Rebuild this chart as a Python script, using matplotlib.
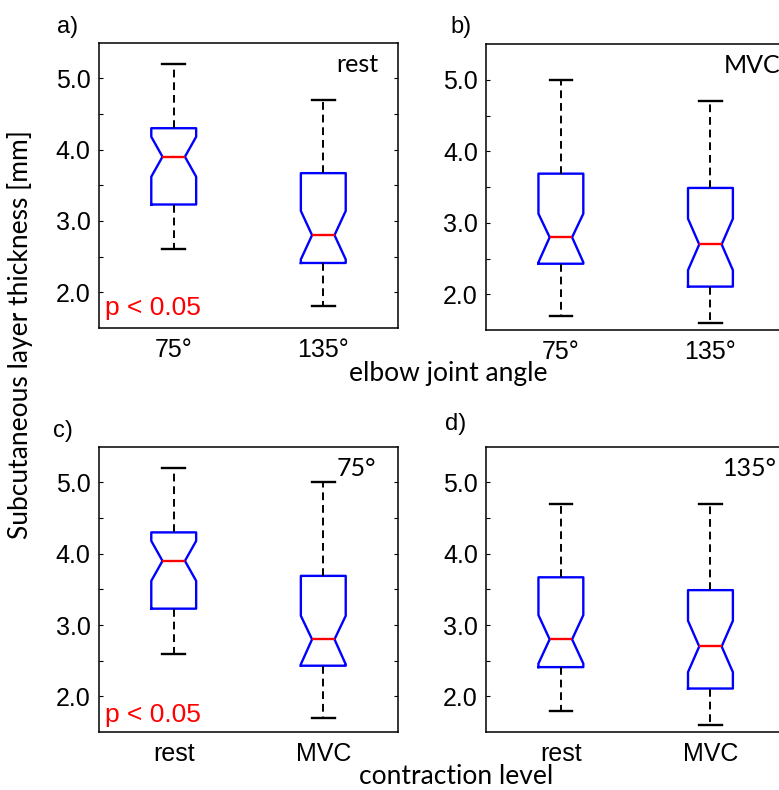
"""
Subcutaneous layer thickness: notched boxplots for elbow angle and contraction level.
"""
import matplotlib
matplotlib.use("Agg")
import matplotlib.pyplot as plt

# box stats: (whislo, q1, cilo, median, cihi, q3, whishi)
rest_75 = (2.6, 3.23, 3.62, 3.90, 4.18, 4.30, 5.2)
rest_135 = (1.8, 2.41, 2.46, 2.80, 3.14, 3.67, 4.7)
mvc_75 = (1.7, 2.43, 2.45, 2.80, 3.13, 3.69, 5.0)
mvc_135 = (1.6, 2.11, 2.34, 2.70, 3.06, 3.49, 4.7)

angle_labels = ["75°", "135°"]
level_labels = ["rest", "MVC"]
y_ticks = [2.0, 3.0, 4.0, 5.0]
y_minor = [2.5, 3.5, 4.5]

TICK_FONT = "Liberation Sans"
TEXT_FONT = "Lato"


def to_stats(vals, label):
    lo, q1, cilo, med, cihi, q3, hi = vals
    return dict(whislo=lo, q1=q1, cilo=cilo, med=med, cihi=cihi, q3=q3,
                whishi=hi, fliers=[], label=label)


def draw_panel(ax, groups, labels, tag, ptext=None, py=0.045):
    stats = [to_stats(g, l) for g, l in zip(groups, labels)]
    ax.bxp(stats, positions=[1, 2], widths=0.3, shownotches=True,
           showfliers=False,
           boxprops=dict(color="#0000ff", linewidth=1.7),
           medianprops=dict(color="#ff0000", linewidth=1.7),
           whiskerprops=dict(color="black", linewidth=1.4, linestyle=(0, (4, 2.5))),
           capprops=dict(color="black", linewidth=1.7))
    ax.set_xlim(0.5, 2.5)
    ax.set_ylim(1.5, 5.5)
    ax.set_yticks(y_ticks)
    ax.set_yticks(y_minor, minor=True)
    ax.set_yticklabels([f"{t:.1f}" for t in y_ticks], fontsize=18, family=TICK_FONT)
    ax.set_xticks([1, 2])
    ax.set_xticklabels(labels, fontsize=18, family=TICK_FONT)
    ax.tick_params(axis="y", which="both", direction="in", left=True, right=True,
                   length=3, width=0.8, pad=6)
    ax.tick_params(axis="x", length=0, pad=7)
    for s in ax.spines.values():
        s.set_linewidth(1.1)
    ax.text(0.793, 0.965, tag, transform=ax.transAxes, ha="left", va="top",
            fontsize=18, family=TEXT_FONT)
    if ptext:
        ax.text(0.02, py, ptext, transform=ax.transAxes, ha="left", va="baseline",
                fontsize=19, family=TICK_FONT, color="#ff0000")


def main():
    fig = plt.figure(figsize=(7.79, 7.90), dpi=100)

    ax_a = fig.add_axes([0.127, 0.585, 0.384, 0.361])
    ax_b = fig.add_axes([0.624, 0.582, 0.384, 0.362])
    ax_c = fig.add_axes([0.127, 0.0734, 0.384, 0.361])
    ax_d = fig.add_axes([0.624, 0.0734, 0.384, 0.361])

    draw_panel(ax_a, [rest_75, rest_135], angle_labels, "rest", "p < 0.05", 0.045)
    draw_panel(ax_b, [mvc_75, mvc_135], angle_labels, "MVC")
    draw_panel(ax_c, [rest_75, mvc_75], level_labels, "75°", "p < 0.05", 0.035)
    draw_panel(ax_d, [rest_135, mvc_135], level_labels, "135°")

    for x, y, t in [(0.073, 0.958, "a)"), (0.578, 0.958, "b)"),
                    (0.068, 0.447, "c)"), (0.571, 0.456, "d)")]:
        fig.text(x, y, t, fontsize=17, family=TICK_FONT, va="baseline")

    fig.text(0.576, 0.518, "elbow joint angle", ha="center", va="baseline",
             fontsize=19, family=TEXT_FONT)
    fig.text(0.586, 0.007, "contraction level", ha="center", va="baseline",
             fontsize=19, family=TEXT_FONT)
    fig.text(0.026, 0.576, "Subcutaneous layer thickness [mm]", ha="center",
             va="center", rotation=90, fontsize=19, family=TEXT_FONT)

    fig.savefig("out.png", dpi=100)


if __name__ == "__main__":
    main()
